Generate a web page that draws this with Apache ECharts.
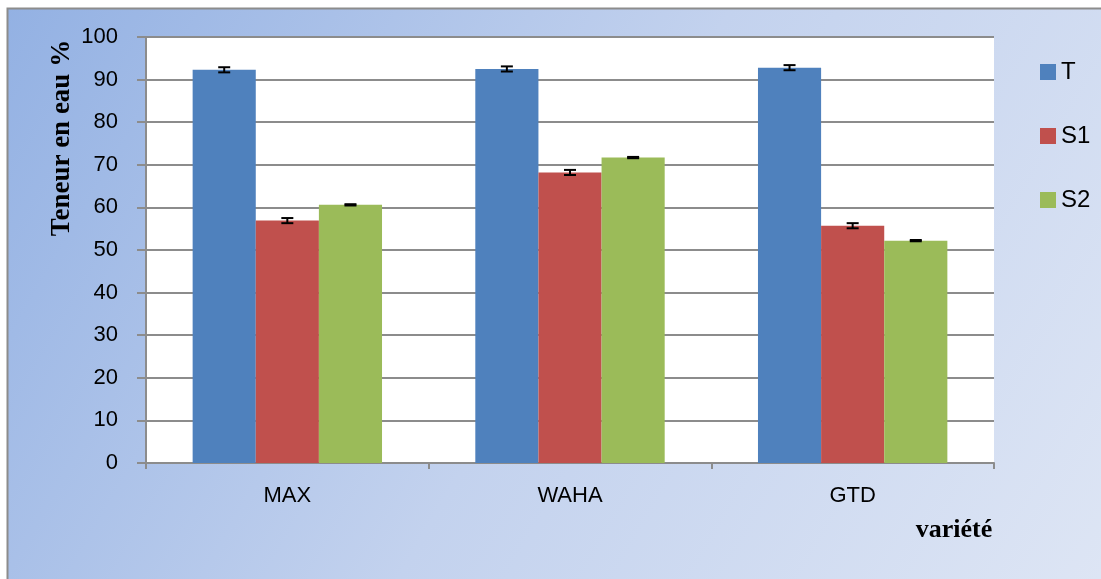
<!DOCTYPE html>
<html>
<head>
<meta charset="utf-8">
<script src="https://cdn.jsdelivr.net/npm/echarts@6/dist/echarts.min.js"></script>
<style>html,body{margin:0;padding:0;background:#fff}#c{width:1101px;height:579px}</style>
</head>
<body>
<div id="c"></div>
<script>
var categories = ['MAX', 'WAHA', 'GTD'];
var seriesNames = ['T', 'S1', 'S2'];
var valuesT = [92.3, 92.5, 92.8];
var valuesS1 = [56.9, 68.2, 55.7];
var valuesS2 = [60.6, 71.7, 52.2];
var errT = [0.6, 0.6, 0.6];
var errS1 = [0.6, 0.6, 0.6];
var errS2 = [0.15, 0.15, 0.15];
var yTicks = [0, 10, 20, 30, 40, 50, 60, 70, 80, 90, 100];
var colors = ['#4F81BD', '#C0504D', '#9BBB59'];

var values = [valuesT, valuesS1, valuesS2];
var errs = [errT, errS1, errS2];
var CAT_GAP = 0.33;

var chart = echarts.init(document.getElementById('c'));

function errSeries(k) {
  var data = categories.map(function (c, i) {
    return [i, values[k][i] - errs[k][i], values[k][i] + errs[k][i]];
  });
  return {
    type: 'custom',
    name: seriesNames[k] + '_err',
    z: 10,
    silent: true,
    data: data,
    renderItem: function (params, api) {
      var ci = api.value(0);
      var lo = api.coord([ci, api.value(1)]);
      var hi = api.coord([ci, api.value(2)]);
      var catW = api.size([1, 0])[0];
      var bw = catW * (1 - CAT_GAP) / 3;
      var x = lo[0] + (k - 1) * bw;
      var hw = 6;
      var st = { stroke: '#000', lineWidth: 2 };
      return {
        type: 'group',
        children: [
          { type: 'line', shape: { x1: x, y1: lo[1], x2: x, y2: hi[1] }, style: st },
          { type: 'line', shape: { x1: x - hw, y1: lo[1], x2: x + hw, y2: lo[1] }, style: st },
          { type: 'line', shape: { x1: x - hw, y1: hi[1], x2: x + hw, y2: hi[1] }, style: st }
        ]
      };
    }
  };
}

var series = [];
for (var k = 0; k < 3; k++) {
  series.push({
    type: 'bar',
    name: seriesNames[k],
    data: values[k],
    barGap: '0%',
    barCategoryGap: (CAT_GAP * 100) + '%',
    itemStyle: { color: colors[k] },
    emphasis: { disabled: true }
  });
}
for (var k2 = 0; k2 < 3; k2++) series.push(errSeries(k2));

chart.setOption({
  animation: false,
  backgroundColor: '#ffffff',
  graphic: [
    {
      type: 'rect', z: -10, silent: true,
      shape: { x: 7.5, y: 8.5, width: 1200, height: 700 },
      style: {
        fill: new echarts.graphic.LinearGradient(0, 0, 1, 1, [
          { offset: 0, color: '#93B1E3' },
          { offset: 0.45, color: '#C3D2EE' },
          { offset: 1, color: '#E4EAF6' }
        ]),
        stroke: '#8c8c8c', lineWidth: 2
      }
    },
    {
      type: 'text', silent: true, z: 5,
      x: 62, y: 138, rotation: Math.PI / 2,
      style: {
        text: 'Teneur en eau %',
        font: 'bold 27px "Liberation Serif"',
        fill: '#000', align: 'center', verticalAlign: 'middle'
      }
    },
    {
      type: 'text', silent: true, z: 5,
      x: 954, y: 530,
      style: {
        text: 'variété',
        font: 'bold 26px "Liberation Serif"',
        fill: '#000', align: 'center', verticalAlign: 'middle'
      }
    }
  ],
  legend: {
    orient: 'vertical',
    left: 1035,
    top: 55,
    itemWidth: 16,
    itemHeight: 16,
    itemGap: 40,
    data: seriesNames,
    icon: 'rect',
    textStyle: { fontSize: 24, fontFamily: 'Liberation Sans', color: '#000' }
  },
  grid: {
    left: 146, top: 37, right: 107, bottom: 116,
    show: true, backgroundColor: '#ffffff', borderWidth: 0
  },
  xAxis: {
    type: 'category',
    data: categories,
    axisLine: { lineStyle: { color: '#8c8c8c', width: 2 } },
    axisTick: { show: true, length: 6, alignWithLabel: false, lineStyle: { color: '#8c8c8c', width: 2 } },
    axisLabel: { margin: 22, fontSize: 22, fontFamily: 'Liberation Sans', color: '#000' }
  },
  yAxis: {
    type: 'value',
    min: yTicks[0], max: yTicks[yTicks.length - 1], interval: 10,
    axisLine: { show: true, lineStyle: { color: '#8c8c8c', width: 2 } },
    axisTick: { show: true, length: 9, inside: false, lineStyle: { color: '#8c8c8c', width: 2 } },
    splitLine: { show: true, lineStyle: { color: '#8c8c8c', width: 2 } },
    axisLabel: { margin: 28, fontSize: 22, fontFamily: 'Liberation Sans', color: '#000' }
  },
  series: series
});
</script>
</body>
</html>
